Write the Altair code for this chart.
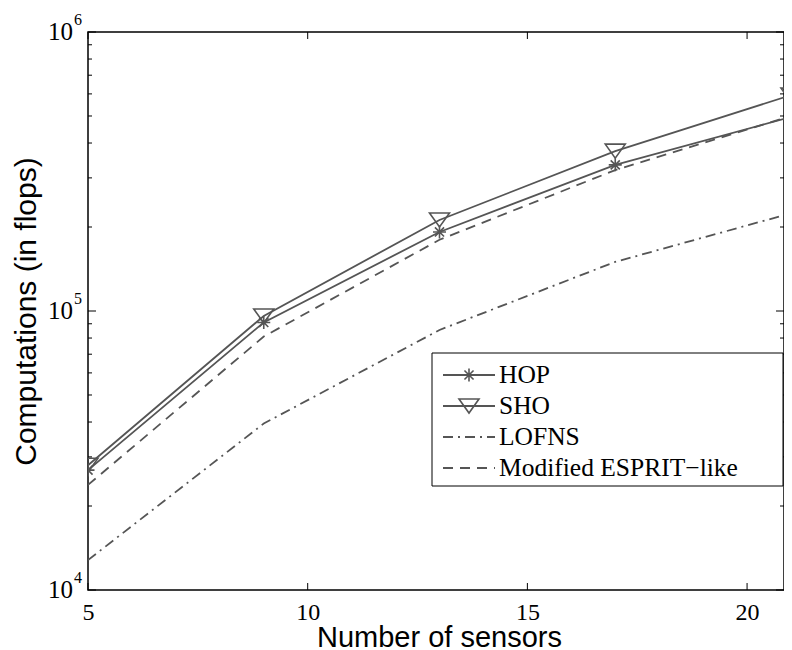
import altair as alt
import pandas as pd

# ---------------- data ----------------
sensors = [5, 9, 13, 17, 21]
hop = [26900, 91000, 192000, 334000, 496000]
sho = [28000, 96000, 212000, 374000, 594000]
lofns = [12800, 39500, 85500, 150000, 224000]
esprit = [23800, 81000, 180000, 320000, 500000]
series_names = ["HOP", "SHO", "LOFNS", "Modified ESPRIT\u2212like"]

x_ticks = [5, 10, 15, 20]
y_major = [1e4, 1e5, 1e6]
y_exps = ["4", "5", "6"]
y_minor = [m * d for d in (1e4, 1e5) for m in range(2, 10)]

# ---------------- style ----------------
W, H = 696, 558
PX_PER_UNIT = 703 / 16          # reference scale: 5..21 spans 703 px (image crops the right edge)
X_MAX = 5 + W / PX_PER_UNIT
GRAY = "#555555"
STAR = "M-1,0L1,0M0,-1L0,1M-0.7,-0.7L0.7,0.7M-0.7,0.7L0.7,-0.7"
TRI = "M-1,-0.7L1,-0.7L0,0.7Z"
SERIF = "Liberation Serif"
SANS = "Liberation Sans"
DASH_LOFNS = [10, 5, 2, 5]
DASH_ESPRIT = [10, 7]

rows = []
for name, vals in zip(series_names, [hop, sho, lofns, esprit]):
    for s, v in zip(sensors, vals):
        rows.append({"sensors": s, "value": v, "series": name})
df = pd.DataFrame(rows)

xs = alt.Scale(domain=[5, X_MAX], nice=False, zero=False)
ys = alt.Scale(type="log", domain=[1e4, 1e6], nice=False)

X = alt.X("sensors:Q", scale=xs, axis=alt.Axis(
    values=x_ticks, ticks=False, tickSize=0, domain=False, grid=False,
    labelFont=SERIF, labelFontSize=24, labelColor="black", labelPadding=10,
    labelFlush=False, labelOverlap=False,
    title="Number of sensors", titleFont=SANS, titleFontSize=29,
    titleFontWeight="normal", titleColor="black", titleX=351, titleY=56,
    titleAlign="center", titleBaseline="alphabetic"))
Y = alt.Y("value:Q", scale=ys, axis=alt.Axis(
    labels=False, ticks=False, tickSize=0, domain=False, grid=False,
    title="Computations (in flops)", titleFont=SANS, titleFontSize=30,
    titleFontWeight="normal", titleColor="black", titleAngle=270,
    titleX=-53, titleY=H / 2, titleAlign="center", titleBaseline="alphabetic"))

base = alt.Chart(df)

solid = base.transform_filter(
    alt.FieldOneOfPredicate(field="series", oneOf=["HOP", "SHO"])
).mark_line(color=GRAY, strokeWidth=1.8, clip=True).encode(x=X, y=Y, detail="series:N")
lofns_line = base.transform_filter(alt.datum.series == "LOFNS").mark_line(
    color=GRAY, strokeWidth=1.8, strokeDash=DASH_LOFNS, clip=True).encode(x=X, y=Y)
esprit_line = base.transform_filter(alt.datum.series == series_names[3]).mark_line(
    color=GRAY, strokeWidth=1.8, strokeDash=DASH_ESPRIT, clip=True).encode(x=X, y=Y)
hop_pts = base.transform_filter(alt.datum.series == "HOP").mark_point(
    shape=STAR, size=169, color=GRAY, strokeWidth=1.6, opacity=1, clip=True).encode(x=X, y=Y)
sho_pts = base.transform_filter(alt.datum.series == "SHO").mark_point(
    shape=TRI, size=400, color=GRAY, strokeWidth=1.6, opacity=1, clip=True).encode(x=X, y=Y)

# ---------------- ticks (inward, MATLAB style) ----------------
ymaj = pd.DataFrame({"value": y_major, "exp": y_exps, "ten": ["10"] * 3})
ymin = pd.DataFrame({"value": y_minor})
xt = pd.DataFrame({"sensors": x_ticks})

tick_layers = [
    alt.Chart(ymaj).mark_rule(color="black", strokeWidth=1).encode(y=Y, x=alt.value(0), x2=alt.value(8)),
    alt.Chart(ymaj).mark_rule(color="black", strokeWidth=1).encode(y=Y, x=alt.value(W - 8), x2=alt.value(W)),
    alt.Chart(ymin).mark_rule(color="black", strokeWidth=1).encode(y=Y, x=alt.value(0), x2=alt.value(4)),
    alt.Chart(ymin).mark_rule(color="black", strokeWidth=1).encode(y=Y, x=alt.value(W - 4), x2=alt.value(W)),
    alt.Chart(xt).mark_rule(color="black", strokeWidth=1).encode(x=X, y=alt.value(H - 7), y2=alt.value(H)),
    alt.Chart(xt).mark_rule(color="black", strokeWidth=1).encode(x=X, y=alt.value(0), y2=alt.value(7)),
    alt.Chart(ymaj).mark_text(align="right", baseline="middle", font=SERIF, fontSize=25,
                              color="black").encode(y=Y, x=alt.value(-15), text="ten:N"),
    alt.Chart(ymaj).mark_text(align="left", baseline="middle", font=SERIF, fontSize=16,
                              color="black", dy=-12).encode(y=Y, x=alt.value(-14), text="exp:N"),
]

# ---------------- legend ----------------
one = alt.Data(values=[{}])
legend_layers = [
    alt.Chart(one).mark_rect(fill="white", stroke="black", strokeWidth=1).encode(
        x=alt.value(344), x2=alt.value(695), y=alt.value(321), y2=alt.value(454))
]
styles = [(None, STAR, 169), (None, TRI, 400), (DASH_LOFNS, None, 0), (DASH_ESPRIT, None, 0)]
for i, (name, (dash, shape, size)) in enumerate(zip(series_names, styles)):
    ly = 343 + 31 * i
    rule_kw = dict(color=GRAY, strokeWidth=1.8)
    if dash:
        rule_kw["strokeDash"] = dash
    legend_layers.append(alt.Chart(one).mark_rule(**rule_kw).encode(
        x=alt.value(355), x2=alt.value(407), y=alt.value(ly)))
    if shape:
        legend_layers.append(alt.Chart(one).mark_point(
            shape=shape, size=size, color=GRAY, strokeWidth=1.6, opacity=1).encode(
            x=alt.value(381), y=alt.value(ly)))
    legend_layers.append(alt.Chart(one).mark_text(
        text=name, align="left", baseline="middle", font=SERIF, fontSize=25.5,
        color="black").encode(x=alt.value(411), y=alt.value(ly)))

chart = alt.layer(
    solid, lofns_line, esprit_line, hop_pts, sho_pts, *tick_layers, *legend_layers
).properties(
    width=W, height=H,
    padding={"left": 80, "top": 24, "right": 0, "bottom": 60},
    autosize=alt.AutoSizeParams(type="none"),
    background="white",
).configure_view(stroke="black", strokeWidth=1.5)

chart.save("out.html", embed_options={"renderer": "svg", "actions": False})
